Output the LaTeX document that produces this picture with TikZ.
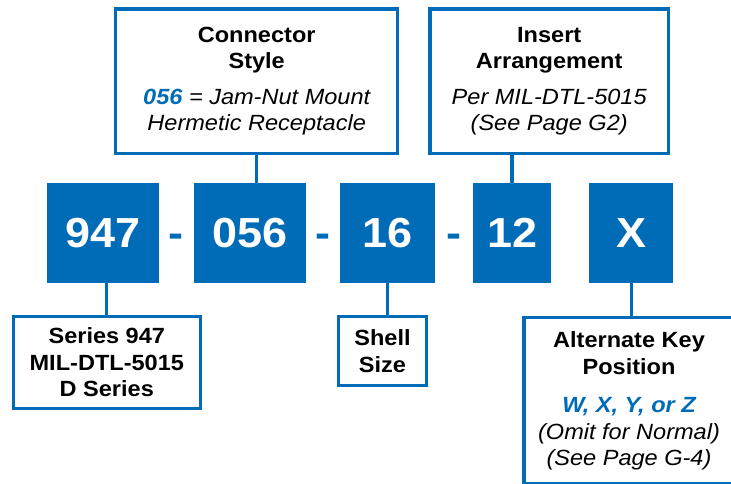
\documentclass[tikz,border=0pt]{standalone}
\usepackage{fontspec}
\setmainfont{Liberation Sans}[FakeStretch=1.07]
\usetikzlibrary{positioning}
\definecolor{pnblue}{RGB}{0,107,182}
\newcommand*{\headFont}{\fontsize{22}{26.5}\selectfont\bfseries}
\newcommand*{\bodyFont}{\fontsize{22}{26.5}\selectfont\mdseries\itshape}
\newcommand*{\codeFont}{\fontsize{42}{42}\selectfont\bfseries}
\tikzset{
    codebox/.style = {fill=pnblue, text=white, minimum height=99.4pt, inner sep=0pt, font=\codeFont},
    hyph/.style    = {text=pnblue, inner sep=0pt, font=\codeFont},
    infobox/.style = {draw=pnblue, line width=3.3pt, align=center, inner sep=0pt, font=\headFont},
    link/.style    = {draw=pnblue, line width=3.3pt}
}

\begin{document}
\begin{tikzpicture}[x=1pt, y=-1pt]
	\useasboundingbox (0,0) rectangle (731,484);
	% part number row
	\node (n947) [codebox, minimum width=111.7pt] at (103.2,233) {947};
	\node (n056) [codebox, minimum width=112.4pt, right=34.3pt of n947] {056};
	\node (n16)  [codebox, minimum width=95pt, right=33.3pt of n056] {16};
	\node (n12)  [codebox, minimum width=78.3pt, right=37.7pt of n16] {12};
	\node (nX)   [codebox, minimum width=84pt, right=37.7pt of n12] {X};
	\path (n947.east) -- node (dashA) [hyph] {\vphantom{0}-} (n056.west);
	\path (n056.east) -- node (dashB) [hyph] {\vphantom{0}-} (n16.west);
	\path (n16.east)  -- node (dashC) [hyph] {\vphantom{0}-} (n12.west);

	% callouts
	\node (conn)   [infobox, minimum width=282pt, minimum height=144.3pt] at (256.7,81.2)
		{Connector\\Style\\[9pt]{\bodyFont\textbf{\textcolor{pnblue}{056}} = Jam-Nut Mount}\\{\bodyFont Hermetic Receptacle}};
	\node (ins)    [infobox, minimum width=238.3pt, minimum height=144.3pt] at (549.2,81.2)
		{Insert\\Arrangement\\[9pt]{\bodyFont Per MIL-DTL-5015}\\{\bodyFont (See Page G2)}};
	\node (series) [infobox, minimum width=187pt, minimum height=91.6pt] at (106.8,362.5)
		{Series 947\\MIL-DTL-5015\\D Series};
	\node (shell)  [infobox, minimum width=88.4pt, minimum height=69pt] at (382.5,351.2)
		{Shell\\Size};
	\node (alt)    [infobox, minimum width=210pt, minimum height=166.3pt] at (629,400.9)
		{Alternate Key\\Position\\[12pt]{\bodyFont\bfseries\textcolor{pnblue}{W, X, Y, or Z}}\\{\bodyFont (Omit for Normal)}\\{\bodyFont (See Page G-4)}};

	\draw [link] (conn.south) -- (conn.south |- n056.north);
	\draw [link] (n12.north) -- (n12.north |- ins.south);
	\draw [link] (series.north) -- (series.north |- n947.south);
	\draw [link] (n16.south) -- (n16.south |- shell.north);
	\draw [link] (nX.south) -- (nX.south |- alt.north);
\end{tikzpicture}
\end{document}
